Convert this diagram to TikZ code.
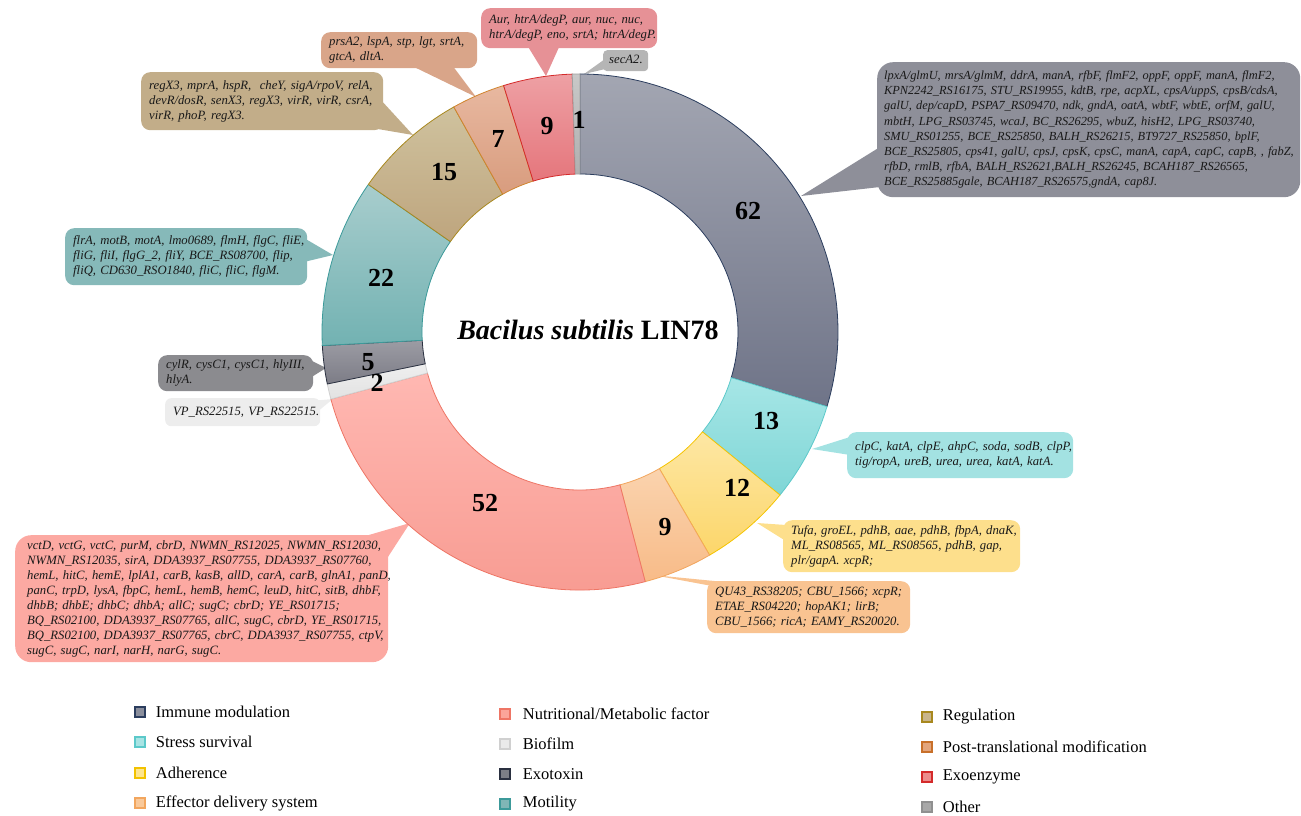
\documentclass[tikz,border=0pt]{standalone}
\usepackage{fontspec}
\setmainfont{Liberation Serif}
\usetikzlibrary{calc,backgrounds}
% segment colours
\definecolor{imT}{HTML}{A3A6B2}\definecolor{imB}{HTML}{6F7488}\definecolor{imD}{HTML}{2B3D5E}
\definecolor{ssT}{HTML}{A6E6E6}\definecolor{ssB}{HTML}{7FD6D6}\definecolor{ssD}{HTML}{5CC9CA}
\definecolor{adT}{HTML}{FDE7A4}\definecolor{adB}{HTML}{FCD66A}\definecolor{adD}{HTML}{F5C400}
\definecolor{efT}{HTML}{FAD3AE}\definecolor{efB}{HTML}{F8BB88}\definecolor{efD}{HTML}{F2A65E}
\definecolor{nuT}{HTML}{FFB8B2}\definecolor{nuB}{HTML}{F7998F}\definecolor{nuD}{HTML}{EE7565}
\definecolor{bfT}{HTML}{EFEFEF}\definecolor{bfB}{HTML}{E2E2E2}\definecolor{bfD}{HTML}{D0D0D0}
\definecolor{etT}{HTML}{9C9CA4}\definecolor{etB}{HTML}{7C7C86}\definecolor{etD}{HTML}{2A3040}
\definecolor{moT}{HTML}{A8CDCD}\definecolor{moB}{HTML}{72B2B2}\definecolor{moD}{HTML}{3C9A9A}
\definecolor{rgT}{HTML}{CFC29E}\definecolor{rgB}{HTML}{BEA57E}\definecolor{rgD}{HTML}{A8881E}
\definecolor{ptT}{HTML}{E8B8A0}\definecolor{ptB}{HTML}{D89C7E}\definecolor{ptD}{HTML}{D0842E}
\definecolor{exT}{HTML}{EEA0A4}\definecolor{exB}{HTML}{E5767C}\definecolor{exD}{HTML}{D42A2A}
\definecolor{otT}{HTML}{C8C8C8}\definecolor{otB}{HTML}{B0B0B0}\definecolor{otD}{HTML}{A0A0A0}
% callout colours
\definecolor{imC}{HTML}{8E8F99}\definecolor{ssC}{HTML}{A3E2E2}\definecolor{adC}{HTML}{FDDF8C}
\definecolor{efC}{HTML}{F9C391}\definecolor{nuC}{HTML}{FCA9A2}\definecolor{bfC}{HTML}{EDEDED}
\definecolor{etC}{HTML}{8B8B8F}\definecolor{moC}{HTML}{86B9B9}\definecolor{rgC}{HTML}{C2AD89}
\definecolor{ptC}{HTML}{D9A589}\definecolor{exC}{HTML}{E69196}\definecolor{otC}{HTML}{B5B5B5}
% legend colours
\definecolor{imL}{HTML}{8A8E9C}\definecolor{ssL}{HTML}{A8E4E4}\definecolor{adL}{HTML}{FDE58F}
\definecolor{efL}{HTML}{F9C99A}\definecolor{nuL}{HTML}{FBA59A}\definecolor{bfL}{HTML}{EAEAEA}
\definecolor{etL}{HTML}{7C7E86}\definecolor{moL}{HTML}{7FB6B6}\definecolor{rgL}{HTML}{C9B58A}
\definecolor{ptL}{HTML}{E3A57C}\definecolor{exL}{HTML}{EC8C8C}\definecolor{otL}{HTML}{A8A8A8}
\definecolor{ptLD}{HTML}{C8702A}\definecolor{adLD}{HTML}{F2C200}\definecolor{otLD}{HTML}{909090}
\newcommand\ringseg[5]{%
  \path[top color=#3, bottom color=#4, draw=#5, line width=0.8pt]
    ($(C)+(#1:258)$) arc[start angle=#1, end angle=#2, radius=258]
    -- ($(C)+(#2:158)$) arc[start angle=#2, end angle=#1, radius=158] -- cycle;}
\newcommand\clines[1]{\begin{tabular}{@{}l@{}}#1\end{tabular}}
\begin{document}
\begin{tikzpicture}[x=1pt,y=1pt,
  callout/.style={anchor=north west, rounded corners=9pt, inner xsep=8pt, inner ysep=3pt,
     align=left, font=\fontsize{12.7}{15}\selectfont\itshape, text=black!90},
  seglabel/.style={font=\fontsize{26}{26}\selectfont\bfseries, inner sep=0pt},
  legsq/.style={minimum size=10pt, inner sep=0pt, line width=1.3pt, draw},
  legtxt/.style={anchor=west, font=\fontsize{16.5}{18}\selectfont, inner sep=0pt, xshift=10pt}]
\useasboundingbox (0,0) rectangle (1301,815);
\coordinate (C) at (580,483);

% ---------- callouts ----------
\node[callout, fill=exC, text width=160pt, minimum height=40pt] (ex) at (481,807)
  {\clines{Aur, htrA/degP, aur, nuc, nuc,\\ htrA/degP, eno, srtA; htrA/degP.}};
\node[callout, fill=otC, text width=33pt, minimum height=19pt, inner xsep=6pt, rounded corners=4pt] (ot) at (603,765)
  {\clines{secA2.}};
\node[callout, fill=ptC, text width=140pt, minimum height=36pt] (pt) at (321,783)
  {\clines{prsA2, lspA, stp, lgt, srtA,\\ gtcA, dltA.}};
\node[callout, fill=rgC, text width=226pt, minimum height=58pt] (rg) at (141,743)
  {\clines{regX3, mprA, hspR,\ \ cheY, sigA/rpoV, relA,\\ devR/dosR, senX3, regX3, virR, virR, csrA,\\ virR, phoP, regX3.}};
\node[callout, fill=imC, text width=409pt, inner xsep=7pt, minimum height=135pt, rounded corners=16pt,
      font=\fontsize{12.35}{15.2}\selectfont\itshape] (im) at (877,753)
  {\clines{lpxA/glmU, mrsA/glmM, ddrA, manA, rfbF, flmF2, oppF, oppF, manA, flmF2,\\
  KPN2242\_RS16175, STU\_RS19955, kdtB, rpe, acpXL, cpsA/uppS, cpsB/cdsA,\\
  galU, dep/capD, PSPA7\_RS09470, ndk, gndA, oatA, wbtF, wbtE, orfM, galU,\\
  mbtH, LPG\_RS03745, wcaJ, BC\_RS26295, wbuZ, hisH2, LPG\_RS03740,\\
  SMU\_RS01255, BCE\_RS25850, BALH\_RS26215, BT9727\_RS25850, bplF,\\
  BCE\_RS25805, cps41, galU, cpsJ, cpsK, cpsC, manA, capA, capC, capB, , fabZ,\\
  rfbD, rmlB, rfbA, BALH\_RS2621,BALH\_RS26245, BCAH187\_RS26565,\\
  BCE\_RS25885gale, BCAH187\_RS26575,gndA, cap8J.}};
\node[callout, fill=moC, text width=226pt, minimum height=57pt] (mo) at (65,587)
  {\clines{flrA, motB, motA, lmo0689, flmH, flgC, fliE,\\ fliG, fliI, flgG\_2, fliY, BCE\_RS08700, flip,\\ fliQ, CD630\_RSO1840, fliC, fliC, flgM.}};
\node[callout, fill=etC, text width=139pt, minimum height=35pt] (et) at (158,460)
  {\clines{cylR, cysC1, cysC1, hlyIII,\\ hlyA.}};
\node[callout, fill=bfC, text width=139pt, minimum height=28pt, rounded corners=6pt] (bf) at (165,417)
  {\clines{VP\_RS22515, VP\_RS22515.}};
\node[callout, fill=ssC, text width=210pt, minimum height=46pt] (ss) at (847,383)
  {\clines{clpC, katA, clpE, ahpC, soda, sodB, clpP,\\ tig/ropA, ureB, urea, urea, katA, katA.}};
\node[callout, fill=adC, text width=221pt, minimum height=52pt] (ad) at (783,295)
  {\clines{Tufa, groEL, pdhB, aae, pdhB, fbpA, dnaK,\\ ML\_RS08565, ML\_RS08565, pdhB, gap,\\ plr/gapA. xcpR;}};
\node[callout, fill=efC, text width=187pt, minimum height=52pt] (ef) at (707,234)
  {\clines{QU43\_RS38205; CBU\_1566; xcpR;\\ ETAE\_RS04220; hopAK1; lirB;\\ CBU\_1566; ricA; EAMY\_RS20020.}};
\node[callout, fill=nuC, text width=349pt, inner xsep=12pt, minimum height=127pt, rounded corners=16pt] (nu) at (15,280)
  {\clines{vctD, vctG, vctC, purM, cbrD, NWMN\_RS12025, NWMN\_RS12030,\\
  NWMN\_RS12035, sirA, DDA3937\_RS07755, DDA3937\_RS07760,\\
  hemL, hitC, hemE, lplA1, carB, kasB, allD, carA, carB, glnA1, panD,\\
  panC, trpD, lysA, fbpC, hemL, hemB, hemC, leuD, hitC, sitB, dhbF,\\
  dhbB; dhbE; dhbC; dhbA; allC; sugC; cbrD; YE\_RS01715;\\
  BQ\_RS02100, DDA3937\_RS07765, allC, sugC, cbrD, YE\_RS01715,\\
  BQ\_RS02100, DDA3937\_RS07765, cbrC, DDA3937\_RS07755, ctpV,\\
  sugC, sugC, narI, narH, narG, sugC.}};

% pointer tips on the ring
\coordinate (exTip) at (546,739);
\coordinate (otTip) at (584,741);
\coordinate (ptTip) at (476,718);
\coordinate (rgTip) at (413,680);
\coordinate (imTip) at (801,619);
\coordinate (moTip) at (333,560);
\coordinate (etTip) at (326,447);
\coordinate (bfTip) at (333,416);
\coordinate (ssTip) at (812,366);
\coordinate (adTip) at (757,292);
\coordinate (efTip) at (653,240);
\coordinate (nuTip) at (410,292);

\begin{scope}[on background layer]
\fill[exC] ($(ex.north west)+(46,-37)$) -- (exTip) -- ($(ex.north west)+(79,-37)$) -- cycle;
\fill[otC] ($(ot.north west)+(2,-9)$) -- (otTip) -- ($(ot.north west)+(11,-17)$) -- cycle;
\fill[ptC] ($(pt.north west)+(89,-33)$) -- (ptTip) -- ($(pt.north west)+(131,-33)$) -- cycle;
\fill[rgC] ($(rg.north west)+(239,-27)$) -- (rgTip) -- ($(rg.north west)+(225,-55)$) -- cycle;
\fill[imC] ($(im.north west)+(3,-85)$) -- (imTip) -- ($(im.north west)+(3,-125)$) -- cycle;
\fill[moC] ($(mo.north west)+(227,-3)$) -- (moTip) -- ($(mo.north west)+(239,-34)$) -- cycle;
\fill[etC] ($(et.north west)+(152,-5)$) -- (etTip) -- ($(et.north west)+(152,-23)$) -- cycle;
\fill[bfC] ($(bf.north west)+(145,-3)$) -- (bfTip) -- ($(bf.north west)+(152,-14)$) -- cycle;
\fill[ssC] ($(ss.north west)+(3,-5)$) -- (ssTip) -- ($(ss.north west)+(3,-23)$) -- cycle;
\fill[adC] ($(ad.north west)+(3,-5)$) -- (adTip) -- ($(ad.north west)+(6,-23)$) -- cycle;
\fill[efC] ($(ef.north west)+(5,-5)$) -- (efTip) -- ($(ef.north west)+(38,-3)$) -- cycle;
\fill[nuC] ($(nu.north west)+(347,-2)$) -- (nuTip) -- ($(nu.north west)+(371,-25)$) -- cycle;
\end{scope}

% ---------- ring ----------
\ringseg{90}{-16.794}{imT}{imB}{imD}
\ringseg{-16.794}{-39.187}{ssT}{ssB}{ssD}
\ringseg{-39.187}{-59.856}{adT}{adB}{adD}
\ringseg{-59.856}{-75.359}{efT}{efB}{efD}
\ringseg{-75.359}{-164.928}{nuT}{nuB}{nuD}
\ringseg{-164.928}{-168.373}{bfT}{bfB}{bfD}
\ringseg{-168.373}{-176.986}{etT}{etB}{etD}
\ringseg{-176.986}{-214.880}{moT}{moB}{moD}
\ringseg{-214.880}{-240.718}{rgT}{rgB}{rgD}
\ringseg{-240.718}{-252.775}{ptT}{ptB}{ptD}
\ringseg{-252.775}{-268.278}{exT}{exB}{exD}
\ringseg{-268.278}{-270}{otT}{otB}{otD}

% segment counts
\node[seglabel] (n62) at (748,604) {62};
\node[seglabel] (n13) at (766,394) {13};
\node[seglabel] (n12) at (737,327) {12};
\node[seglabel] (n9a) at (665,288) {9};
\node[seglabel] (n52) at (485,312) {52};
\node[seglabel] (n2) at (377,432) {2};
\node[seglabel] (n5) at (368,453) {5};
\node[seglabel] (n22) at (381,537) {22};
\node[seglabel] (n15) at (444,643) {15};
\node[seglabel] (n7) at (498,676) {7};
\node[seglabel] (n9b) at (547,689) {9};
\node[seglabel] (n1) at (579,695) {1};

% title
\node[font=\fontsize{28}{30}\selectfont\bfseries, inner sep=0pt] (title) at (588,485)
  {{\itshape Bacilus subtilis} LIN78};

% ---------- legend ----------
\node[legsq, fill=imL, draw=imD] (l1) at (140,103) {};
\node[legtxt] (t1) at (l1.east) {Immune modulation};
\node[legsq, fill=ssL, draw=ssD] (l2) at (140,73) {};
\node[legtxt] (t2) at (l2.east) {Stress survival};
\node[legsq, fill=adL, draw=adLD] (l3) at (140,42) {};
\node[legtxt] (t3) at (l3.east) {Adherence};
\node[legsq, fill=efL, draw=efD] (l4) at (140,12) {};
\node[legtxt] (t4) at (l4.east) {Effector delivery system};

\node[legsq, fill=nuL, draw=nuD] (l5) at (505,101) {};
\node[legtxt, xshift=2pt] (t5) at (l5.east) {Nutritional/Metabolic factor};
\node[legsq, fill=bfL, draw=bfD] (l6) at (505,71) {};
\node[legtxt, xshift=2pt] (t6) at (l6.east) {Biofilm};
\node[legsq, fill=etL, draw=etD] (l7) at (505,41) {};
\node[legtxt, xshift=2pt] (t7) at (l7.east) {Exotoxin};
\node[legsq, fill=moL, draw=moD] (l8) at (505,11) {};
\node[legtxt, xshift=2pt] (t8) at (l8.east) {Motility};

\node[legsq, fill=rgL, draw=rgD] (l9) at (927,98) {};
\node[legtxt] (t9) at (l9.east) {Regulation};
\node[legsq, fill=ptL, draw=ptLD] (l10) at (927,68) {};
\node[legtxt] (t10) at (l10.east) {Post-translational modification};
\node[legsq, fill=exL, draw=exD] (l11) at (927,38) {};
\node[legtxt] (t11) at (l11.east) {Exoenzyme};
\node[legsq, fill=otL, draw=otLD] (l12) at (927,8) {};
\node[legtxt] (t12) at (l12.east) {Other};
\end{tikzpicture}
\end{document}
